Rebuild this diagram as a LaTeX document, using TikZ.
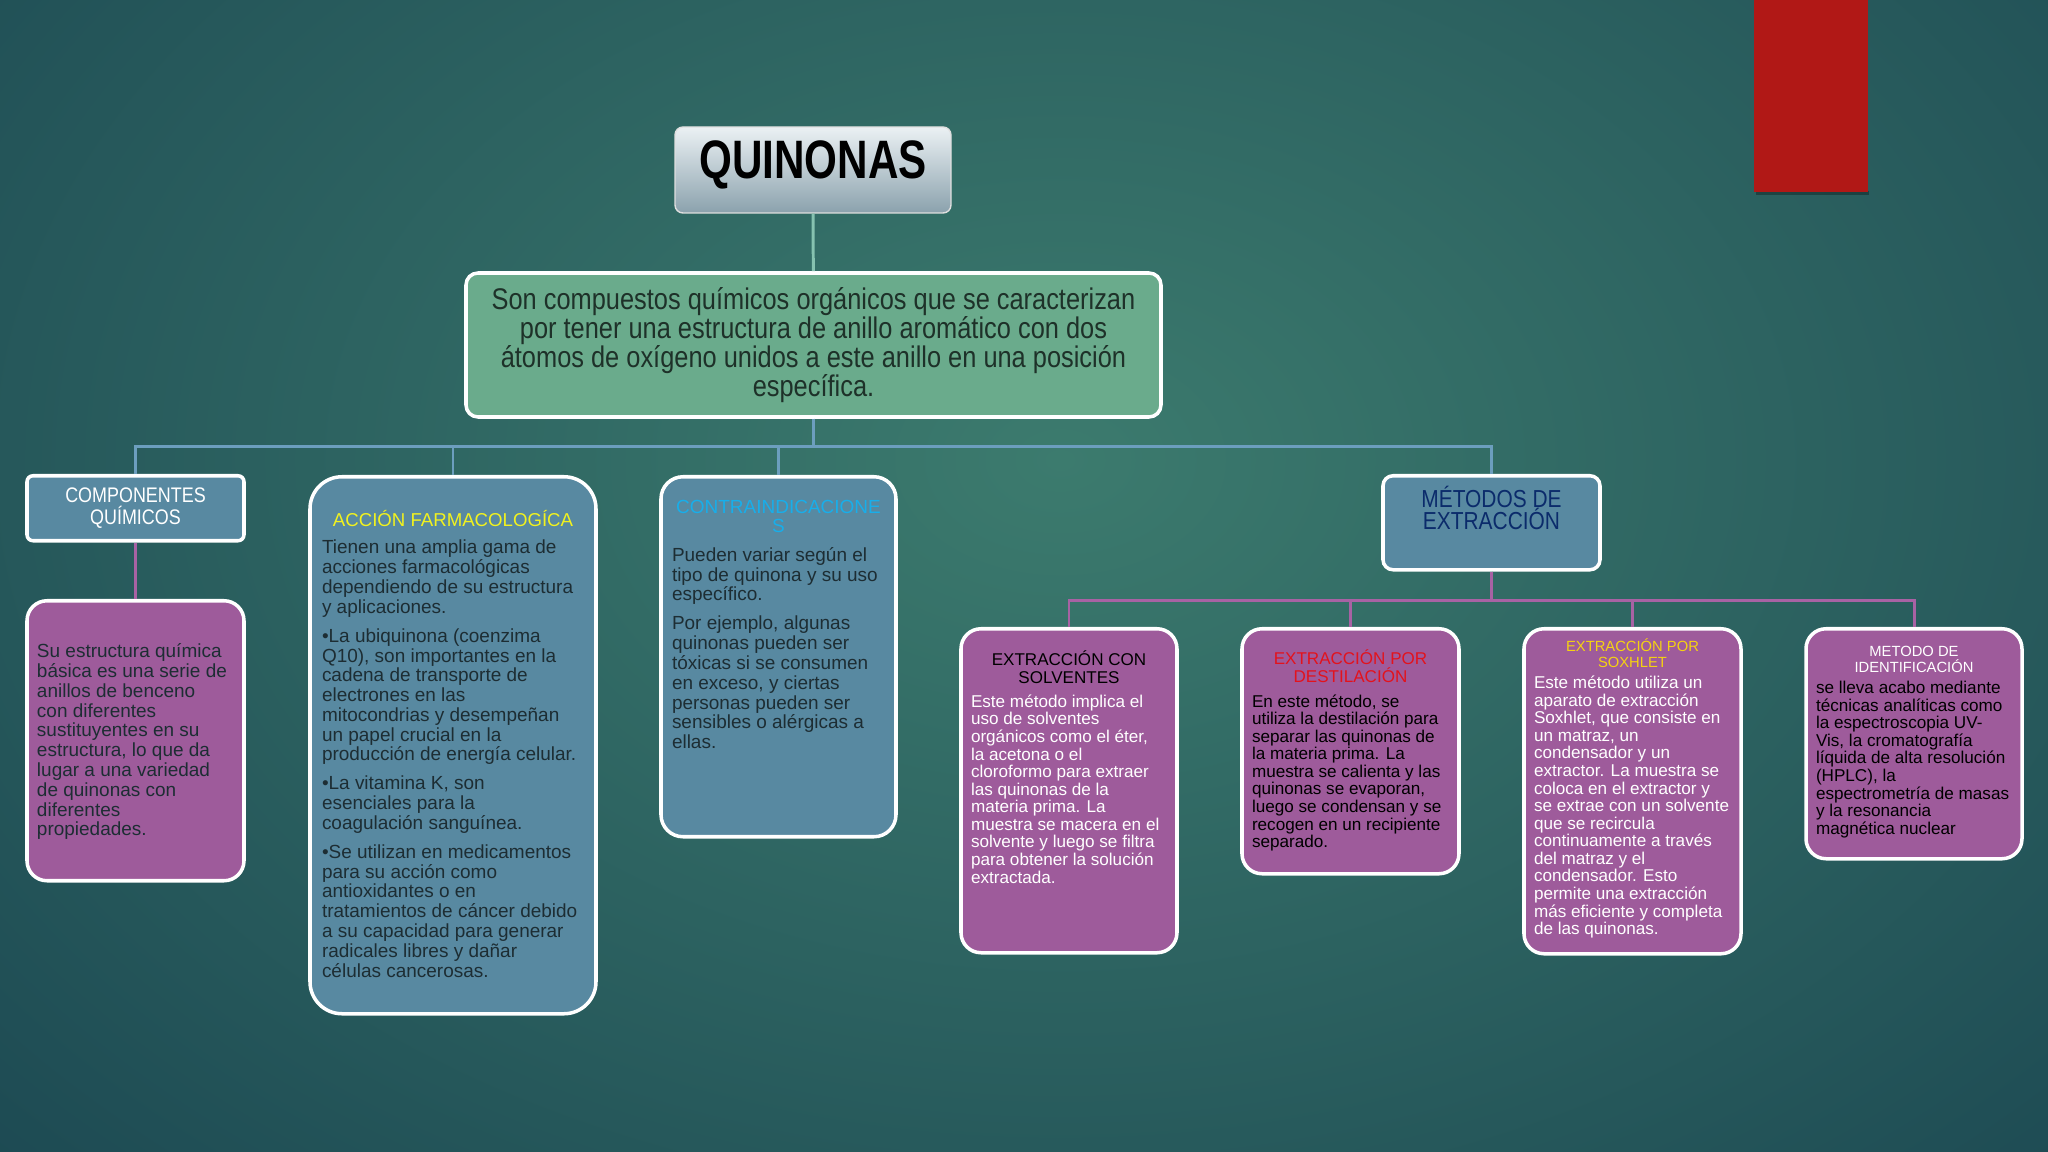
\documentclass[tikz,border=0pt]{standalone}
\usepackage{fontspec}
\setmainfont{Liberation Sans}
\newfontfamily\narrowfont{Liberation Sans}[FakeStretch=0.78]
\newfontfamily\semifont{Liberation Sans}[FakeStretch=0.85]
\usepackage{tikz}
\lineskiplimit=-20pt

\definecolor{bglight}{HTML}{3C7B6E}
\definecolor{bgdark}{HTML}{163F4D}
\definecolor{boxblue}{HTML}{5889A1}
\definecolor{boxpink}{HTML}{9E5B9B}
\definecolor{boxgreen}{HTML}{6AAB8C}
\definecolor{linkblue}{HTML}{6C9EBE}
\definecolor{linkpink}{HTML}{A862A4}
\definecolor{linkgreen}{HTML}{86C2B0}
\definecolor{inkdark}{HTML}{1D2D33}
\definecolor{inkgreen}{HTML}{1E3129}
\definecolor{headyellow}{HTML}{F2F21E}
\definecolor{headcyan}{HTML}{18AEEA}
\definecolor{headnavy}{HTML}{0B2B6B}
\definecolor{headred}{HTML}{E3121C}
\definecolor{headgold}{HTML}{F5D211}
\definecolor{tabred}{HTML}{B11816}

\tikzstyle{bluelink} = [draw=linkblue, line width=0.85pt]
\tikzstyle{pinklink} = [draw=linkpink, line width=0.85pt]

\newcommand{\cardtext}[3]{\parbox[c][#2][t]{#1}{#3}}
\newcommand{\bluebody}{\fontsize{5.4}{5.63}\selectfont}
\newcommand{\pinkbody}{\fontsize{4.87}{5.0}\selectfont}
\newcommand{\pinkhead}{\fontsize{4.85}{5.1}\selectfont}
\newcommand{\smallhead}{\fontsize{4.2}{4.45}\selectfont}

\begin{document}
\begin{tikzpicture}[
    card/.style={draw=white, line width=1pt, anchor=north, inner xsep=0pt},
    bluecard/.style={card, fill=boxblue},
    pinkcard/.style={card, fill=boxpink, rounded corners=0.2cm},
    greenlink/.style={draw=linkgreen, line width=0.85pt}]
  \useasboundingbox (0,0) rectangle (20.48,-11.52);
  % Background
  \begin{scope}
    \clip (0,0) rectangle (20.48,-11.52);
    \fill[bgdark] (0,0) rectangle (20.48,-11.52);
    \shade[inner color=bglight, outer color=bgdark] (10.6,-4.6) ellipse (18 and 12.5);
  \end{scope}
  \fill[black, opacity=0.3] (17.56,-1.91) rectangle (18.69,-1.95);
  \fill[tabred] (17.54,0) rectangle (18.68,-1.92);

  % Nodes
  \node[draw=white!75!gray, line width=0.4pt, rounded corners=0.08cm, top color=white!88!boxblue, bottom color=boxblue!55!white!85!black,
        minimum width=2.76cm, minimum height=0.86cm, font=\narrowfont\bfseries\fontsize{15.4}{15}\selectfont] (title) at (8.13,-1.70) {\raisebox{6pt}{QUINONAS}};
  \node[draw=white, line width=1pt, fill=boxgreen, rounded corners=0.12cm, minimum width=6.95cm, minimum height=1.44cm,
        align=center, text=inkgreen, font=\semifont\fontsize{8.5}{8.2}\selectfont] (def) at (8.135,-3.45)
        {Son compuestos químicos orgánicos que se caracterizan\\
         por tener una estructura de anillo aromático con dos\\
         átomos de oxígeno unidos a este anillo en una posición\\
         específica.};

  \node[bluecard, rounded corners=0.06cm, minimum width=2.17cm, minimum height=0.65cm, align=center, text=white,
        font=\semifont\fontsize{6.0}{6.1}\selectfont] (comp) at (1.355,-4.74) {COMPONENTES\\QUÍMICOS};
  \node[pinkcard, inner ysep=0.43cm, minimum width=2.17cm] (compbody) at (1.355,-5.99) {\cardtext{1.97cm}{1.94cm}{%
      \raggedright\color{inkdark}\bluebody
      Su estructura química\\
      básica es una serie de\\
      anillos de benceno\\
      con diferentes\\
      sustituyentes en su\\
      estructura, lo que da\\
      lugar a una variedad\\
      de quinonas con\\
      diferentes\\
      propiedades.\par}};

  \node[bluecard, rounded corners=0.32cm, inner ysep=0.335cm, minimum width=2.86cm] (acc) at (4.53,-4.75) {\cardtext{2.62cm}{4.70cm}{%
      {\centering\color{headyellow}\fontsize{5.3}{5.6}\selectfont ACCIÓN FARMACOLOGÍCA\par}
      \vspace{2.2pt}
      {\raggedright\color{inkdark}\bluebody
      Tienen una amplia gama de\\
      acciones farmacológicas\\
      dependiendo de su estructura\\
      y aplicaciones.\\[2.6pt]
      •La ubiquinona (coenzima\\
      Q10), son importantes en la\\
      cadena de transporte de\\
      electrones en las\\
      mitocondrias y desempeñan\\
      un papel crucial en la\\
      producción de energía celular.\\[2.6pt]
      •La vitamina K, son\\
      esenciales para la\\
      coagulación sanguínea.\\[2.6pt]
      •Se utilizan en medicamentos\\
      para su acción como\\
      antioxidantes o en\\
      tratamientos de cáncer debido\\
      a su capacidad para generar\\
      radicales libres y dañar\\
      células cancerosas.\par}}};

  \node[bluecard, rounded corners=0.22cm, inner ysep=0.23cm, minimum width=2.35cm] (contra) at (7.785,-4.75) {\cardtext{2.13cm}{3.14cm}{%
      {\centering\color{headcyan}\bluebody CONTRAINDICACIONE\\S\par}
      \vspace{2.5pt}
      {\raggedright\color{inkdark}\bluebody
      Pueden variar según el\\
      tipo de quinona y su uso\\
      específico.\\[2.6pt]
      Por ejemplo, algunas\\
      quinonas pueden ser\\
      tóxicas si se consumen\\
      en exceso, y ciertas\\
      personas pueden ser\\
      sensibles o alérgicas a\\
      ellas.\par}}};

  \node[bluecard, rounded corners=0.1cm, inner ysep=0.10cm, minimum width=2.17cm] (met) at (14.915,-4.74) {\cardtext{1.97cm}{0.74cm}{%
      \centering\color{headnavy}\semifont\fontsize{7.0}{6.5}\selectfont MÉTODOS DE\\EXTRACCIÓN\par}};

  \node[pinkcard, inner ysep=0.22cm, minimum width=2.16cm] (solv) at (10.69,-6.27) {\cardtext{1.96cm}{2.80cm}{%
      {\centering\color{black}\pinkhead EXTRACCIÓN CON\\SOLVENTES\par}
      \vspace{1.8pt}
      {\raggedright\color{white}\pinkbody
      Este método implica el\\
      uso de solventes\\
      orgánicos como el éter,\\
      la acetona o el\\
      cloroformo para extraer\\
      las quinonas de la\\
      materia prima. La\\
      muestra se macera en el\\
      solvente y luego se filtra\\
      para obtener la solución\\
      extractada.\par}}};

  \node[pinkcard, inner ysep=0.21cm, minimum width=2.17cm] (dest) at (13.505,-6.27) {\cardtext{1.97cm}{2.03cm}{%
      {\centering\color{headred}\pinkhead EXTRACCIÓN POR\\DESTILACIÓN\par}
      \vspace{2pt}
      {\raggedright\color{black}\pinkbody
      En este método, se\\
      utiliza la destilación para\\
      separar las quinonas de\\
      la materia prima. La\\
      muestra se calienta y las\\
      quinonas se evaporan,\\
      luego se condensan y se\\
      recogen en un recipiente\\
      separado.\par}}};

  \node[pinkcard, inner ysep=0.10cm, minimum width=2.17cm] (soxh) at (16.325,-6.27) {\cardtext{1.97cm}{3.05cm}{%
      {\centering\color{headgold}\smallhead EXTRACCIÓN POR\\SOXHLET\par}
      \vspace{1.1pt}
      {\raggedright\color{white}\pinkbody
      Este método utiliza un\\
      aparato de extracción\\
      Soxhlet, que consiste en\\
      un matraz, un\\
      condensador y un\\
      extractor. La muestra se\\
      coloca en el extractor y\\
      se extrae con un solvente\\
      que se recircula\\
      continuamente a través\\
      del matraz y el\\
      condensador. Esto\\
      permite una extracción\\
      más eficiente y completa\\
      de las quinonas.\par}}};

  \node[pinkcard, inner ysep=0.175cm, minimum width=2.16cm] (ident) at (19.14,-6.27) {\cardtext{1.96cm}{1.95cm}{%
      {\centering\color{white}\smallhead METODO DE\\IDENTIFICACIÓN\par}
      \vspace{1.1pt}
      {\raggedright\color{black}\pinkbody
      se lleva acabo mediante\\
      técnicas analíticas como\\
      la espectroscopia UV-\\
      Vis, la cromatografía\\
      líquida de alta resolución\\
      (HPLC), la\\
      espectrometría de masas\\
      y la resonancia\\
      magnética nuclear\par}}};

  % Edges
  \draw[greenlink] (title) -- (def);
  \draw[bluelink] (def.south) -- ++(0,-0.28) -| (comp.north);
  \draw[bluelink] (def.south) -- ++(0,-0.28) -| (acc.north);
  \draw[bluelink] (def.south) -- ++(0,-0.28) -| (contra.north);
  \draw[bluelink] (def.south) -- ++(0,-0.28) -| (met.north);
  \draw[pinklink] (comp) -- (compbody);
  \draw[pinklink] (met.south) -- ++(0,-0.29) -| (solv.north);
  \draw[pinklink] (met.south) -- ++(0,-0.29) -| (dest.north);
  \draw[pinklink] (met.south) -- ++(0,-0.29) -| (soxh.north);
  \draw[pinklink] (met.south) -- ++(0,-0.29) -| (ident.north);
\end{tikzpicture}
\end{document}
